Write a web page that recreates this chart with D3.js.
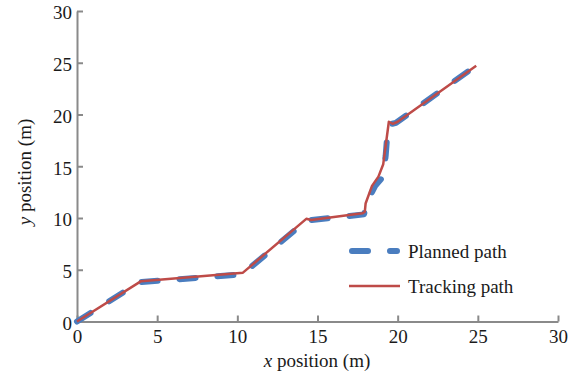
<!DOCTYPE html>
<html>
<head>
<meta charset="utf-8">
<script src="https://cdn.jsdelivr.net/npm/d3@7"></script>
<style>
  html, body { margin: 0; padding: 0; background: #fff; }
  svg { display: block; }
  text { font-family: "Liberation Serif", "Times New Roman", serif; fill: #1a1a1a; }
</style>
</head>
<body>
<svg id="chart" width="577" height="379"></svg>
<script>
// Planned waypoints (x, y in metres)
const plannedX = [0, 3.9, 10.3, 14.3, 17.9, 18.1, 18.6, 19.1, 19.25, 19.4, 19.9, 24.6];
const plannedY = [0, 3.8, 4.55, 9.75, 10.35, 11.6, 13.1, 14.0, 16.0, 19.0, 19.2, 24.4];

// Vehicle tracking trace (x, y in metres)
const trackX = [0, 4.0, 10.35, 14.3, 14.6, 17.8, 17.95, 18.0, 18.4, 18.8, 19.1, 19.45, 19.7, 20.0, 24.9];
const trackY = [0, 3.9, 4.72, 9.92, 9.8, 10.45, 10.6, 11.4, 13.1, 14.0, 15.2, 19.3, 19.1, 19.3, 24.7];

const xTicks = [0, 5, 10, 15, 20, 25, 30];
const yTicks = [0, 5, 10, 15, 20, 25, 30];

const seriesNames = ["Planned path", "Tracking path"];

const svg = d3.select("#chart");
const plotLeft = 77, plotRight = 558, plotTop = 11, plotBottom = 321.5;

const x = d3.scaleLinear().domain([0, 30]).range([plotLeft, plotRight]);
const y = d3.scaleLinear().domain([0, 30]).range([plotBottom, plotTop]);

const axisColor = "#8a8a8a";
const fontSize = 19;

// x axis
const gx = svg.append("g")
  .attr("transform", `translate(0,${plotBottom})`)
  .call(d3.axisBottom(x).tickValues(xTicks).tickSizeInner(-6).tickSizeOuter(0).tickPadding(8));
// y axis
const gy = svg.append("g")
  .attr("transform", `translate(${plotLeft},0)`)
  .call(d3.axisLeft(y).tickValues(yTicks).tickSizeInner(-6).tickSizeOuter(0).tickPadding(5));

[gx, gy].forEach(g => {
  g.select(".domain").attr("stroke", axisColor).attr("stroke-width", 2);
  g.selectAll(".tick line").attr("stroke", axisColor).attr("stroke-width", 2);
  g.selectAll(".tick text")
    .attr("font-family", "Liberation Serif, Times New Roman, serif")
    .attr("font-size", fontSize)
    .attr("fill", "#1a1a1a");
});
gy.selectAll(".tick text").attr("dy", "0.42em");

// axis titles
const xt = svg.append("text")
  .attr("x", 317).attr("y", 367)
  .attr("text-anchor", "middle")
  .attr("font-size", fontSize);
xt.append("tspan").attr("font-style", "italic").text("x");
xt.append("tspan").text(" position (m)");

const yt = svg.append("text")
  .attr("transform", "translate(31,172) rotate(-90)")
  .attr("text-anchor", "middle")
  .attr("font-size", fontSize);
yt.append("tspan").attr("font-style", "italic").text("y");
yt.append("tspan").text(" position (m)");

const line = d3.line().x(d => x(d[0])).y(d => y(d[1]));
const planned = plannedX.map((v, i) => [v, plannedY[i]]);
const track = trackX.map((v, i) => [v, trackY[i]]);

const blue = "#4a7dbf", red = "#be4b48";

svg.append("path")
  .datum(planned)
  .attr("d", line)
  .attr("fill", "none")
  .attr("stroke", blue)
  .attr("stroke-width", 6)
  .attr("stroke-linecap", "round")
  .attr("stroke-linejoin", "round")
  .attr("stroke-dasharray", "16,22");

svg.append("path")
  .datum(track)
  .attr("d", line)
  .attr("fill", "none")
  .attr("stroke", red)
  .attr("stroke-width", 2.5)
  .attr("stroke-linejoin", "round");

// legend
const legend = svg.append("g");
legend.append("line")
  .attr("x1", 352).attr("x2", 397).attr("y1", 251).attr("y2", 251)
  .attr("stroke", blue).attr("stroke-width", 6)
  .attr("stroke-linecap", "round").attr("stroke-dasharray", "16,22");
legend.append("text").attr("x", 408).attr("y", 258)
  .attr("font-size", fontSize).text(seriesNames[0]);
legend.append("line")
  .attr("x1", 349).attr("x2", 400).attr("y1", 286).attr("y2", 286)
  .attr("stroke", red).attr("stroke-width", 2.5);
legend.append("text").attr("x", 408).attr("y", 293)
  .attr("font-size", fontSize).text(seriesNames[1]);
</script>
</body>
</html>
